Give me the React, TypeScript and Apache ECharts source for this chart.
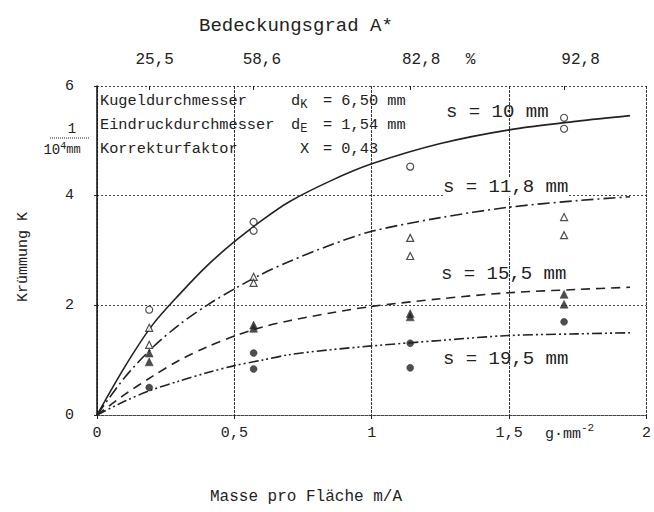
import { useEffect, useRef } from "react";
import * as echarts from "echarts";

// Curves: x = m/A in g/mm², K in 1/10^4 mm
const curveX = [0, 0.1, 0.2, 0.3, 0.4, 0.5, 0.6, 0.7, 0.85, 1.0, 1.25, 1.5, 1.75, 1.94];
const curveS10 = [0, 0.87, 1.63, 2.2, 2.72, 3.16, 3.55, 3.89, 4.27, 4.58, 4.95, 5.2, 5.36, 5.46];
const curveS118 = [0, 0.68, 1.22, 1.65, 2.0, 2.3, 2.57, 2.8, 3.1, 3.35, 3.6, 3.79, 3.91, 3.98];
const curveS155 = [0, 0.37, 0.7, 1.0, 1.24, 1.44, 1.6, 1.72, 1.86, 1.98, 2.12, 2.23, 2.29, 2.33];
const curveS195 = [0, 0.25, 0.46, 0.62, 0.77, 0.9, 1.0, 1.1, 1.19, 1.26, 1.36, 1.45, 1.48, 1.5];

// Measured points
const pointsS10 = [[0.19, 1.92], [0.57, 3.52], [0.57, 3.36], [1.14, 4.53], [1.7, 5.42], [1.7, 5.22]];
const pointsS118 = [[0.19, 1.59], [0.19, 1.28], [0.57, 2.52], [0.57, 2.41], [1.14, 3.23], [1.14, 2.9], [1.7, 3.61], [1.7, 3.28]];
const pointsS155 = [[0.19, 1.13], [0.19, 0.97], [0.57, 1.64], [0.57, 1.58], [1.14, 1.85], [1.14, 1.79], [1.7, 2.2], [1.7, 2.02]];
const pointsS195 = [[0.19, 0.5], [0.57, 1.13], [0.57, 0.84], [1.14, 1.31], [1.14, 0.86], [1.7, 1.7]];

// Top axis (Bedeckungsgrad A*)
const coverageLabels = ["25,5", "58,6", "82,8", "%", "92,8"];
const coverageLabelPos = [0.21, 0.6, 1.18, 1.36, 1.76];
const coverageTickPos = [0.19, 0.57, 1.14, 1.7];

// Texts
const legendNames = ["Kugeldurchmesser", "Eindruckdurchmesser", "Korrekturfaktor"];
const legendSymbols = ["d", "d", "X"];
const legendSubs = ["K", "E", ""];
const legendValues = ["6,50 mm", "1,54 mm", "0,43"];
const curveLabels = ["s = 10 mm", "s = 11,8 mm", "s = 15,5 mm", "s = 19,5 mm"];

const MONO = "'Liberation Mono', 'DejaVu Sans Mono', monospace";
const INK = "#222";

export default function App() {
  const ref = useRef<HTMLDivElement>(null);
  useEffect(() => {
    if (!ref.current) return;
    const chart = echarts.init(ref.current, undefined, { renderer: "svg" });

    const lineSeries = (ys: number[], dash: any) => ({
      type: "line",
      data: curveX.map((x, i) => [x, ys[i]]),
      smooth: 0.3,
      showSymbol: false,
      silent: true,
      z: 2,
      lineStyle: { color: INK, width: 1.6, type: dash },
    });
    const scatter = (data: number[][], symbol: string, size: number, filled: boolean) => ({
      type: "scatter",
      data,
      symbol,
      symbolSize: size,
      z: 5,
      itemStyle: filled
        ? { color: INK, borderColor: INK, borderWidth: 0.5 }
        : { color: "#fff", borderColor: INK, borderWidth: 1.2 },
    });

    const legendY = [101, 125, 149];
    const curveLabelY = [112, 187, 274, 359];
    const curveLabelX = [446, 443, 441, 443];

    const graphics: any[] = [];
    legendNames.forEach((n, i) => {
      graphics.push({
        type: "text",
        x: 100,
        y: legendY[i],
        style: { text: n, font: `15.3px ${MONO}`, fill: INK, verticalAlign: "middle" },
      });
      graphics.push({
        type: "text",
        x: legendSubs[i] ? 291 : 300,
        y: legendY[i],
        style: {
          text: legendSubs[i] ? `{a|${legendSymbols[i]}}{b|${legendSubs[i]}}` : `{a|${legendSymbols[i]}}`,
          verticalAlign: "middle",
          rich: {
            a: { font: `15.3px ${MONO}`, fill: INK },
            b: { font: `12px ${MONO}`, fill: INK, padding: [8, 0, 0, 0] },
          },
        },
      });
      graphics.push({
        type: "text",
        x: 323,
        y: legendY[i],
        style: { text: `= ${legendValues[i]}`, font: `15.3px ${MONO}`, fill: INK, verticalAlign: "middle" },
      });
    });
    curveLabels.forEach((t, i) => {
      graphics.push({
        type: "text",
        x: curveLabelX[i],
        y: curveLabelY[i],
        z: 10,
        style: {
          text: t,
          font: `19px ${MONO}`,
          fill: INK,
          verticalAlign: "middle",
          backgroundColor: i === 1 ? "#fff" : undefined,
        },
      });
    });
    // Y unit fraction 1 / 10^4 mm
    graphics.push({ type: "text", x: 72, y: 129, style: { text: "1", font: `14px ${MONO}`, fill: INK, align: "center", verticalAlign: "middle" } });
    graphics.push({ type: "line", shape: { x1: 50, y1: 138, x2: 90, y2: 138 }, style: { stroke: INK, lineWidth: 1, lineDash: [1, 1] } });
    graphics.push({
      type: "text",
      x: 62,
      y: 150,
      style: {
        text: "{n|10}{s|4}{m|mm}",
        align: "center",
        verticalAlign: "middle",
        rich: {
          n: { font: `14px ${MONO}`, fill: INK },
          s: { font: `10px ${MONO}`, fill: INK, padding: [0, 0, 8, 0] },
          m: { font: `12px ${MONO}`, fill: INK },
        },
      },
    });
    // Y axis name
    graphics.push({
      type: "text",
      x: 23,
      y: 257,
      rotation: Math.PI / 2,
      style: { text: "Krümmung K", font: `15px ${MONO}`, fill: INK, align: "center", verticalAlign: "middle" },
    });
    // X unit
    graphics.push({
      type: "text",
      x: 545,
      y: 434,
      style: {
        text: "{n|g·mm}{s|-2}",
        verticalAlign: "middle",
        rich: {
          n: { font: `15px ${MONO}`, fill: INK },
          s: { font: `11px ${MONO}`, fill: INK, padding: [0, 0, 12, 0] },
        },
      },
    });
    // X axis name
    graphics.push({
      type: "text",
      x: 306,
      y: 497,
      style: { text: "Masse pro Fläche m/A", font: `16px ${MONO}`, fill: INK, align: "center", verticalAlign: "middle" },
    });

    chart.setOption({
      animation: false,
      backgroundColor: "#fff",
      title: {
        text: "Bedeckungsgrad A*",
        left: 194,
        top: 11,
        textStyle: { fontFamily: MONO, fontSize: 19, fontWeight: "normal", color: INK },
      },
      grid: { left: 97, right: 3, top: 86, bottom: 97 },
      xAxis: [
        {
          type: "value",
          position: "bottom",
          min: 0,
          max: 2,
          interval: 0.5,
          axisLine: { show: true, lineStyle: { color: "#444", width: 1, type: [3, 1] } },
          axisTick: { show: true, length: 4, lineStyle: { color: INK } },
          axisLabel: {
            margin: 11,
            fontFamily: MONO,
            fontSize: 15,
            color: INK,
            formatter: (v: number) => String(v).replace(".", ","),
          },
          splitLine: { show: true, lineStyle: { color: "#333", width: 1, type: [3, 1] } },
        },
        {
          type: "value",
          position: "top",
          min: 0,
          max: 2,
          axisLine: { show: false },
          axisTick: { show: true, inside: true, length: 4, customValues: coverageTickPos, lineStyle: { color: INK } },
          axisLabel: {
            customValues: coverageLabelPos,
            margin: 18,
            fontFamily: MONO,
            fontSize: 16,
            color: INK,
            formatter: (v: number) => {
              let best = 0;
              coverageLabelPos.forEach((p, i) => {
                if (Math.abs(p - v) < Math.abs(coverageLabelPos[best] - v)) best = i;
              });
              return coverageLabels[best];
            },
          },
          splitLine: { show: false },
        },
      ],
      yAxis: {
        type: "value",
        min: 0,
        max: 6,
        interval: 2,
        axisLine: { show: true, lineStyle: { color: "#111", width: 1.5 } },
        axisTick: { show: true, length: 3, lineStyle: { color: INK } },
        axisLabel: { margin: 23, fontFamily: MONO, fontSize: 15, color: INK },
        splitLine: { show: true, lineStyle: { color: "#444", width: 1, type: [2, 2] } },
      },
      graphic: graphics,
      series: [
        lineSeries(curveS10, "solid"),
        lineSeries(curveS118, [12, 4, 2, 4]),
        lineSeries(curveS155, [9, 6]),
        lineSeries(curveS195, [10, 3, 2, 3, 2, 3]),
        scatter(pointsS10, "circle", 7, false),
        scatter(pointsS118, "triangle", 7, false),
        scatter(pointsS155, "triangle", 8, true),
        scatter(pointsS195, "circle", 7, true),
      ],
    });
    return () => chart.dispose();
  }, []);
  return <div ref={ref} style={{ position: "fixed", left: 0, top: 0, width: 654, height: 512 }} />;
}
